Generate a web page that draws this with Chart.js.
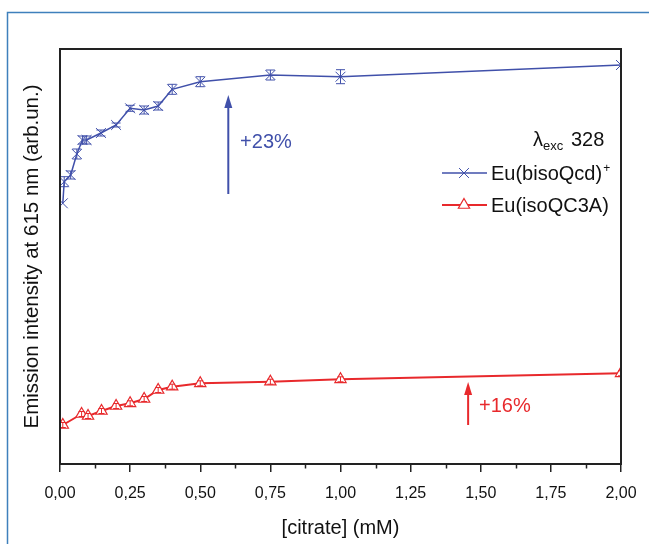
<!DOCTYPE html>
<html><head><meta charset="utf-8">
<script src="https://cdn.jsdelivr.net/npm/chart.js@4"></script>
<style>html,body{margin:0;padding:0;background:#fff;}canvas{display:block;}</style>
</head><body>
<canvas id="c" width="649" height="544"></canvas>
<script>
// ---- data (arbitrary units) ----
const blueX   = [0.01, 0.015, 0.038, 0.06, 0.08, 0.095, 0.146, 0.2, 0.25, 0.3, 0.35, 0.4, 0.5, 0.75, 1.0, 2.0];
const blueY   = [260.7, 282.3, 289, 310, 324, 324, 331, 339, 355.7, 354, 358, 374.7, 382.3, 389, 387.3, 399];
const blueErr = [0, 5, 4, 5, 4, 4, 3, 2, 3, 4, 4, 5, 5, 5, 7, 0];
const redX    = [0.01, 0.077, 0.1, 0.148, 0.2, 0.25, 0.3, 0.35, 0.4, 0.5, 0.75, 1.0, 2.0];
const redY    = [39, 50, 48, 53, 58, 60.7, 65, 74, 77.3, 80.7, 82.3, 84.7, 90.7];
const redErr  = [2.5, 2.5, 2.5, 2.5, 2.5, 2.5, 2.5, 2.5, 2.5, 2.5, 2.5, 2.5, 2.5];
const xMin = 0, xMax = 2, xStep = 0.25, xMinorStep = 0.125;
const yMin = 0, yMax = 415;
const seriesNames = ['Eu(bisoQcd)', 'Eu(isoQC3A)'];
const blueArrow = {x: 0.6, y0: 270, y1: 369, label: '+23%', lx: 0.642, ly: 322};
const redArrow  = {x: 1.455, y0: 39, y1: 82, label: '+16%', lx: 1.494, ly: 58};

const BLUE = '#4050aa', RED = '#e8292c', AXIS = '#222';
const FONT = "'Liberation Sans', Arial, sans-serif";

const toPts = (xs, ys) => xs.map((x, i) => ({x, y: ys[i]}));

function arrow(ctx, x, yb, yt, color) {
  ctx.save();
  ctx.strokeStyle = color; ctx.fillStyle = color; ctx.lineWidth = 2;
  ctx.beginPath(); ctx.moveTo(x, yb); ctx.lineTo(x, yt + 10); ctx.stroke();
  ctx.beginPath(); ctx.moveTo(x - 4, yt + 13); ctx.lineTo(x, yt); ctx.lineTo(x + 4, yt + 13); ctx.closePath(); ctx.fill();
  ctx.restore();
}
function crossRot(ctx, x, y, r, color) {
  const d = r * Math.SQRT1_2;
  ctx.save(); ctx.strokeStyle = color; ctx.lineWidth = 1;
  ctx.beginPath(); ctx.moveTo(x - d, y - d); ctx.lineTo(x + d, y + d);
  ctx.moveTo(x + d, y - d); ctx.lineTo(x - d, y + d); ctx.stroke(); ctx.restore();
}
function tri(ctx, x, y, r, color) {
  ctx.save(); ctx.strokeStyle = color; ctx.fillStyle = '#fff'; ctx.lineWidth = 1.2;
  ctx.beginPath();
  for (let k = 0; k < 3; k++) {
    const a = -Math.PI / 2 + k * 2 * Math.PI / 3;
    const px = x + Math.cos(a) * r, py = y + Math.sin(a) * r;
    k ? ctx.lineTo(px, py) : ctx.moveTo(px, py);
  }
  ctx.closePath(); ctx.fill(); ctx.stroke(); ctx.restore();
}

const extras = {
  id: 'extras',
  afterDatasetsDraw(chart) {
    const {ctx, chartArea: a, scales: {x, y}} = chart;
    ctx.save();
    ctx.beginPath(); ctx.rect(a.left, a.top, a.right - a.left, a.bottom - a.top); ctx.clip();
    const bars = (xs, ys, es, color, hw) => {
      ctx.strokeStyle = color; ctx.lineWidth = 1;
      xs.forEach((xv, i) => {
        if (!es[i]) return;
        const px = x.getPixelForValue(xv);
        const p1 = y.getPixelForValue(ys[i] + es[i]), p2 = y.getPixelForValue(ys[i] - es[i]);
        ctx.beginPath();
        ctx.moveTo(px, p1); ctx.lineTo(px, p2);
        ctx.moveTo(px - hw, p1); ctx.lineTo(px + hw, p1);
        ctx.moveTo(px - hw, p2); ctx.lineTo(px + hw, p2);
        ctx.stroke();
      });
    };
    bars(blueX, blueY, blueErr, BLUE, 4.5);
    bars(redX, redY, redErr, RED, 3);
    ctx.restore();
  },
  afterDraw(chart) {
    const {ctx, chartArea: a, scales: {x, y}} = chart;
    ctx.save();
    // outer page frame (blue)
    ctx.strokeStyle = '#3f80bc'; ctx.lineWidth = 1.5;
    ctx.beginPath(); ctx.moveTo(649, 12.5); ctx.lineTo(7.5, 12.5); ctx.lineTo(7.5, 544); ctx.stroke();
    // plot box
    ctx.strokeStyle = AXIS; ctx.lineWidth = 2;
    ctx.strokeRect(a.left, a.top, a.right - a.left, a.bottom - a.top);
    // minor ticks
    ctx.lineWidth = 1.5;
    for (let v = xMin + xMinorStep; v < xMax; v += 2 * xMinorStep) {
      const px = Math.round(x.getPixelForValue(v)) + 0.5;
      ctx.beginPath(); ctx.moveTo(px, a.bottom); ctx.lineTo(px, a.bottom + 4.5); ctx.stroke();
    }
    // arrows and labels
    [[blueArrow, BLUE], [redArrow, RED]].forEach(([ar, col]) => {
      arrow(ctx, x.getPixelForValue(ar.x), y.getPixelForValue(ar.y0), y.getPixelForValue(ar.y1), col);
      ctx.fillStyle = col; ctx.font = '20px ' + FONT; ctx.textBaseline = 'middle'; ctx.textAlign = 'left';
      ctx.fillText(ar.label, x.getPixelForValue(ar.lx), y.getPixelForValue(ar.ly));
    });
    // legend
    ctx.fillStyle = '#111'; ctx.textBaseline = 'alphabetic'; ctx.textAlign = 'left';
    ctx.font = '20px ' + FONT; ctx.fillText('λ', 533, 146);
    ctx.font = '13px ' + FONT; ctx.fillText('exc', 543, 150);
    ctx.font = '20px ' + FONT; ctx.fillText('328', 571, 146);
    // entry 1
    ctx.strokeStyle = BLUE; ctx.lineWidth = 1.5;
    ctx.beginPath(); ctx.moveTo(442, 173); ctx.lineTo(487, 173); ctx.stroke();
    crossRot(ctx, 464, 173, 7, BLUE);
    ctx.fillStyle = '#111'; ctx.font = '20px ' + FONT; ctx.fillText(seriesNames[0], 491, 180);
    const w0 = ctx.measureText(seriesNames[0]).width;
    ctx.font = '12px ' + FONT; ctx.fillText('+', 491 + w0 + 1, 172);
    // entry 2
    ctx.strokeStyle = RED; ctx.lineWidth = 2;
    ctx.beginPath(); ctx.moveTo(442, 205); ctx.lineTo(487, 205); ctx.stroke();
    tri(ctx, 464, 205, 6.5, RED);
    ctx.fillStyle = '#111'; ctx.font = '20px ' + FONT; ctx.fillText(seriesNames[1], 491, 212);
    ctx.restore();
  }
};

new Chart(document.getElementById('c'), {
  type: 'line',
  data: {
    datasets: [
      {label: seriesNames[0] + '+', data: toPts(blueX, blueY), borderColor: BLUE, borderWidth: 1.5,
       pointStyle: 'crossRot', pointRadius: 7, pointBorderWidth: 1, pointBorderColor: BLUE,
       pointBackgroundColor: 'transparent', tension: 0, fill: false},
      {label: seriesNames[1], data: toPts(redX, redY), borderColor: RED, borderWidth: 2,
       pointStyle: 'triangle', pointRadius: 6.5, pointBorderWidth: 1.2, pointBorderColor: RED,
       pointBackgroundColor: '#fff', tension: 0, fill: false}
    ]
  },
  options: {
    responsive: false, animation: false, devicePixelRatio: 1,
    layout: {padding: {top: 49, right: 28, bottom: 0, left: 0}},
    plugins: {legend: {display: false}, tooltip: {enabled: false}},
    scales: {
      x: {
        type: 'linear', min: xMin, max: xMax,
        grid: {display: true, drawOnChartArea: false, drawTicks: true, tickLength: 8, color: AXIS, lineWidth: 1.5},
        border: {display: false},
        ticks: {stepSize: xStep, padding: 12, color: '#111', font: {family: FONT, size: 16},
                callback: v => v.toFixed(2).replace('.', ','), maxRotation: 0, autoSkip: false},
        title: {display: true, text: '[citrate] (mM)', color: '#111', font: {family: FONT, size: 20}, padding: {top: 0, bottom: 4}},
        afterFit: s => { s.height = 80; }
      },
      y: {
        min: yMin, max: yMax,
        grid: {display: false}, border: {display: false},
        ticks: {display: false},
        title: {display: true, text: 'Emission intensity at 615 nm (arb.un.)', color: '#111', font: {family: FONT, size: 20.5}, padding: {top: 20, bottom: 0}},
        afterFit: s => { s.width = 60; }
      }
    }
  },
  plugins: [extras]
});
</script>
</body></html>
